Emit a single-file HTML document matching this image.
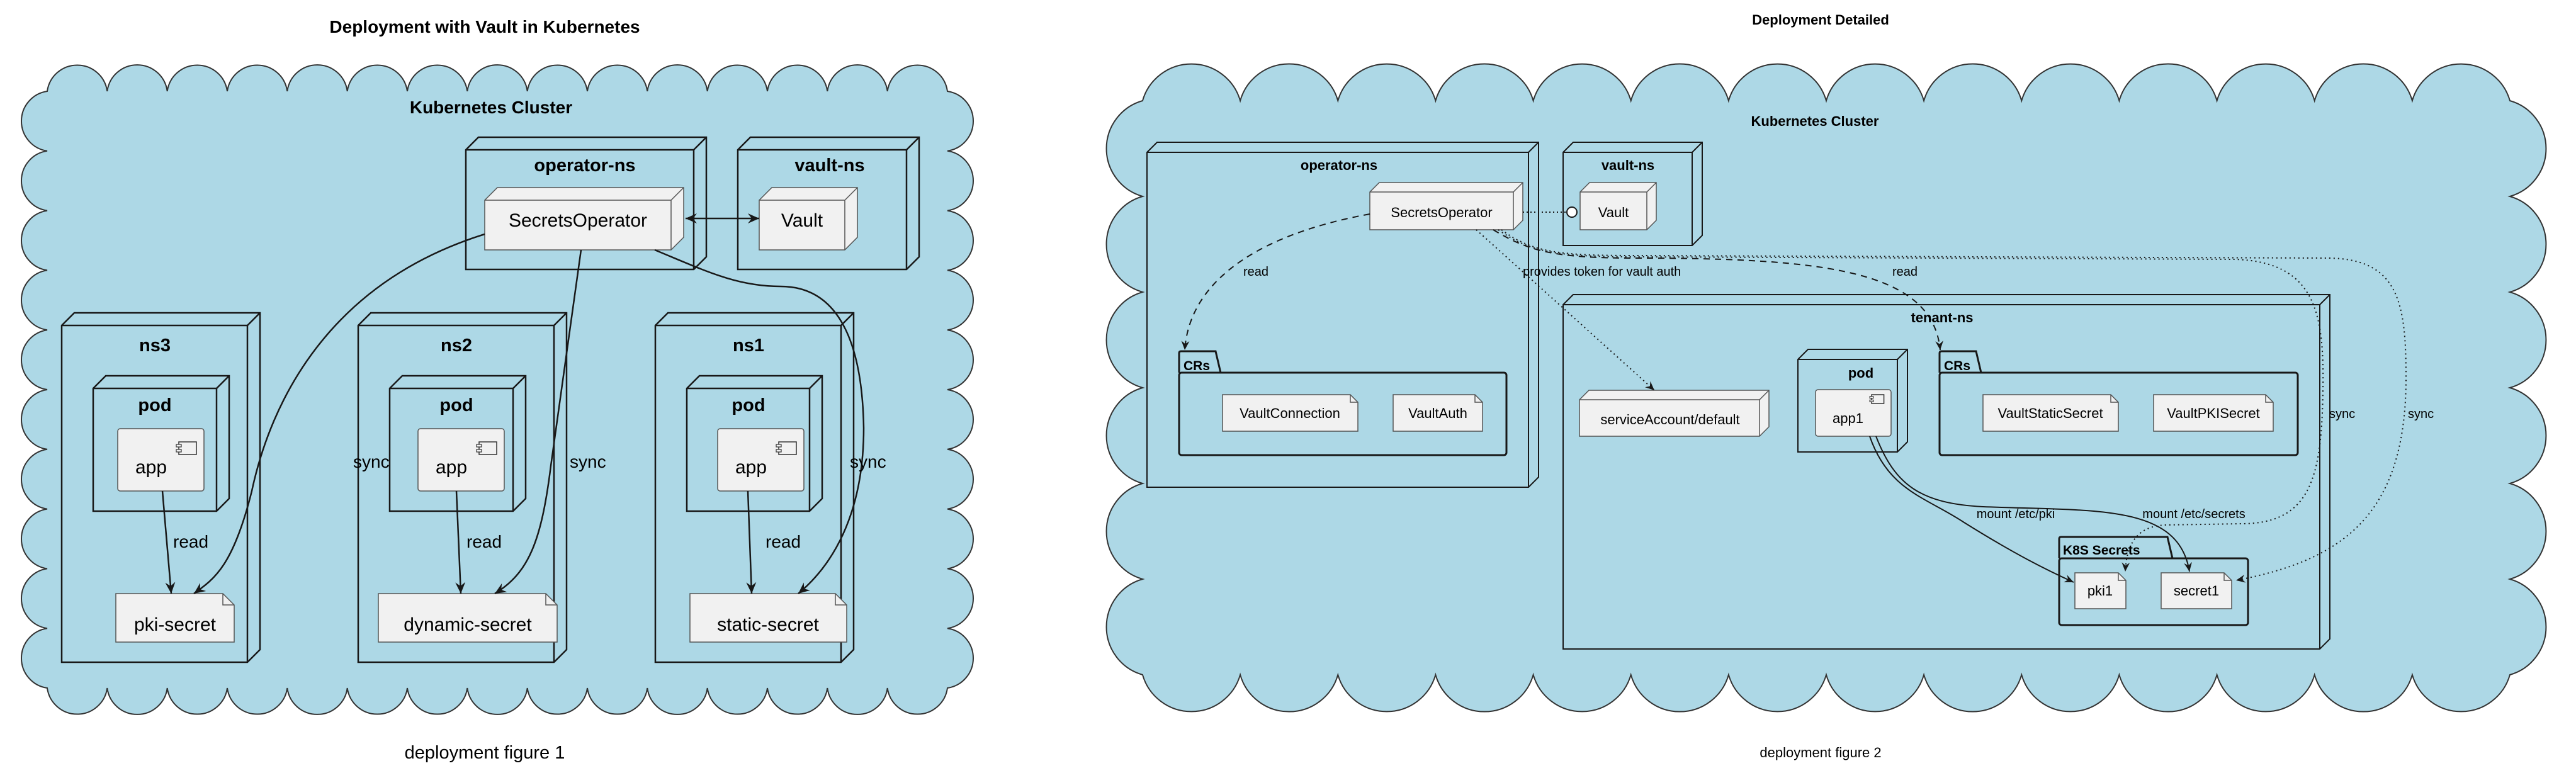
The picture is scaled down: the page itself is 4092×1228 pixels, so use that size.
<!DOCTYPE html>
<html><head><meta charset="utf-8">
<style>
html,body{margin:0;padding:0;background:#fff;}
svg{display:block;}
text{font-family:"Liberation Sans",sans-serif;fill:#000;}
.b{font-weight:bold;}
</style></head>
<body>
<svg id="s" width="4092" height="1228" viewBox="0 0 4092 1228" xmlns="http://www.w3.org/2000/svg">
<defs>
<marker id="ar" viewBox="0 0 20 20" refX="18" refY="10" markerWidth="20" markerHeight="20" markerUnits="userSpaceOnUse" orient="auto-start-reverse">
<path d="M0,2 L18,10 L0,18 L6,10 Z" fill="#181818"/>
</marker>
<marker id="ar2" viewBox="0 0 20 20" refX="18" refY="10" markerWidth="16" markerHeight="16" markerUnits="userSpaceOnUse" orient="auto-start-reverse">
<path d="M0,2 L18,10 L0,18 L6,10 Z" fill="#181818"/>
</marker>
</defs>
<g id="clouds"></g>
<g id="shapes"></g>
<g id="lines" fill="none" stroke="#181818">
<!-- left diagram -->
<line x1="1089" y1="347" x2="1206" y2="347" stroke-width="2.5" marker-start="url(#ar)" marker-end="url(#ar)"/>
<path d="M258,780 L272,943" stroke-width="2.5" marker-end="url(#ar)"/>
<path d="M725,780 L732,943" stroke-width="2.5" marker-end="url(#ar)"/>
<path d="M1188,780 L1194,943" stroke-width="2.5" marker-end="url(#ar)"/>
<path d="M770,372 C520,450 430,640 400,780 C370,900 340,920 308,943" stroke-width="2.5" marker-end="url(#ar)"/>
<path d="M923,397 C905,530 890,640 875,740 C860,860 840,910 786,943" stroke-width="2.5" marker-end="url(#ar)"/>
<path d="M1040,397 C1120,430 1170,455 1240,455 C1340,455 1370,560 1372,680 C1372,820 1320,900 1268,943" stroke-width="2.5" marker-end="url(#ar)"/>
<!-- right diagram -->
<line x1="2419" y1="337" x2="2489" y2="337" stroke-width="2" stroke-dasharray="2,4"/>
<circle cx="2497" cy="337" r="8" fill="#fff" stroke-width="2"/>
<path d="M2176,340 C2010,370 1890,440 1882,556" stroke-width="2" stroke-dasharray="10,8" marker-end="url(#ar2)"/>
<path d="M2372,365 C2430,400 2470,410 2600,410 C2900,410 3070,430 3082,556" stroke-width="2" stroke-dasharray="10,8" marker-end="url(#ar2)"/>
<path d="M2345,365 L2628,620" stroke-width="2" stroke-dasharray="2,5" marker-end="url(#ar2)"/>
<path d="M2380,365 C2430,400 2470,408 2600,408 L3550,412 C3680,416 3692,500 3690,620 C3688,760 3670,832 3560,832 L3440,834 C3390,836 3378,870 3376,908" stroke-width="2" stroke-dasharray="2,5" marker-end="url(#ar2)"/>
<path d="M2385,365 C2435,402 2480,406 2600,406 L3700,410 C3810,412 3822,480 3822,600 C3822,820 3720,890 3552,922" stroke-width="2" stroke-dasharray="2,5" marker-end="url(#ar2)"/>
<path d="M2970,693 C3000,780 3060,790 3120,830 C3200,880 3250,905 3294,925" stroke-width="2" marker-end="url(#ar2)"/>
<path d="M2980,693 C3010,770 3050,800 3150,805 C3330,812 3460,800 3478,908" stroke-width="2" marker-end="url(#ar2)"/>
</g>
<g id="txt">
<text x="770" y="52" class="b" font-size="28" text-anchor="middle">Deployment with Vault in Kubernetes</text>
<text x="780" y="180" class="b" font-size="28" text-anchor="middle">Kubernetes Cluster</text>
<text x="929" y="272" class="b" font-size="29" text-anchor="middle">operator-ns</text>
<text x="1318" y="272" class="b" font-size="29" text-anchor="middle">vault-ns</text>
<text x="918" y="360" font-size="30" text-anchor="middle">SecretsOperator</text>
<text x="1274" y="360" font-size="30" text-anchor="middle">Vault</text>
<text x="246" y="558" class="b" font-size="29" text-anchor="middle">ns3</text>
<text x="725" y="558" class="b" font-size="29" text-anchor="middle">ns2</text>
<text x="1189" y="558" class="b" font-size="29" text-anchor="middle">ns1</text>
<text x="246" y="653" class="b" font-size="29" text-anchor="middle">pod</text>
<text x="725" y="653" class="b" font-size="29" text-anchor="middle">pod</text>
<text x="1189" y="653" class="b" font-size="29" text-anchor="middle">pod</text>
<text x="240" y="752" font-size="30" text-anchor="middle">app</text>
<text x="717" y="752" font-size="30" text-anchor="middle">app</text>
<text x="1193" y="752" font-size="30" text-anchor="middle">app</text>
<text x="278" y="1002" font-size="30" text-anchor="middle">pki-secret</text>
<text x="743" y="1002" font-size="30" text-anchor="middle">dynamic-secret</text>
<text x="1220" y="1002" font-size="30" text-anchor="middle">static-secret</text>
<text x="275" y="870" font-size="28">read</text>
<text x="741" y="870" font-size="28">read</text>
<text x="1216" y="870" font-size="28">read</text>
<text x="561" y="743" font-size="28">sync</text>
<text x="905" y="743" font-size="28">sync</text>
<text x="1350" y="743" font-size="28">sync</text>
<text x="770" y="1205" font-size="29" text-anchor="middle">deployment figure 1</text>

<text x="2892" y="39" class="b" font-size="22" text-anchor="middle">Deployment Detailed</text>
<text x="2883" y="200" class="b" font-size="22" text-anchor="middle">Kubernetes Cluster</text>
<text x="2127" y="270" class="b" font-size="22" text-anchor="middle">operator-ns</text>
<text x="2586" y="270" class="b" font-size="22" text-anchor="middle">vault-ns</text>
<text x="2290" y="345" font-size="22" text-anchor="middle">SecretsOperator</text>
<text x="2563" y="345" font-size="22" text-anchor="middle">Vault</text>
<text x="1975" y="438" font-size="20">read</text>
<text x="2419" y="438" font-size="20">provides token for vault auth</text>
<text x="3006" y="438" font-size="20">read</text>
<text x="3085" y="512" class="b" font-size="22" text-anchor="middle">tenant-ns</text>
<text x="2956" y="600" class="b" font-size="22" text-anchor="middle">pod</text>
<text x="2911" y="672" font-size="22">app1</text>
<text x="1880" y="588" class="b" font-size="21">CRs</text>
<text x="3088" y="588" class="b" font-size="21">CRs</text>
<text x="2049" y="664" font-size="22" text-anchor="middle">VaultConnection</text>
<text x="2284" y="664" font-size="22" text-anchor="middle">VaultAuth</text>
<text x="3257" y="664" font-size="22" text-anchor="middle">VaultStaticSecret</text>
<text x="3516" y="664" font-size="22" text-anchor="middle">VaultPKISecret</text>
<text x="2653" y="674" font-size="22" text-anchor="middle">serviceAccount/default</text>
<text x="3277" y="881" class="b" font-size="21">K8S Secrets</text>
<text x="3336" y="946" font-size="22" text-anchor="middle">pki1</text>
<text x="3489" y="946" font-size="22" text-anchor="middle">secret1</text>
<text x="3202" y="823" font-size="20" text-anchor="middle">mount /etc/pki</text>
<text x="3485" y="823" font-size="20" text-anchor="middle">mount /etc/secrets</text>
<text x="3700" y="664" font-size="20">sync</text>
<text x="3825" y="664" font-size="20">sync</text>
<text x="2892" y="1203" font-size="22" text-anchor="middle">deployment figure 2</text>
</g>
</svg>
<script>
var NS="http://www.w3.org/2000/svg";
function el(p,t,a){var e=document.createElementNS(NS,t);for(var k in a)e.setAttribute(k,a[k]);p.appendChild(e);return e;}
function cloud(x1,y1,x2,y2,s,rf,large){
  var d="M"+x1+","+y1;
  function edge(ax,ay,bx,by){
    var L=Math.hypot(bx-ax,by-ay),n=Math.max(1,Math.round(L/s)),seg=L/n,r=seg*rf;
    for(var i=1;i<=n;i++){var px=ax+(bx-ax)*i/n,py=ay+(by-ay)*i/n;
      d+=" A"+r.toFixed(1)+","+r.toFixed(1)+" 0 "+large+" 1 "+px.toFixed(1)+","+py.toFixed(1);}
  }
  edge(x1,y1,x2,y1);edge(x2,y1,x2,y2);edge(x2,y2,x1,y2);edge(x1,y2,x1,y1);
  el(document.getElementById("clouds"),"path",{d:d+"Z",fill:"#ADD8E6",stroke:"#333","stroke-width":2});
}
cloud(75,145,1505,1093,95,0.505,0);
cloud(1815,160,3987,1072,150,0.52,0);
var G=document.getElementById("shapes");
function node(x,y,x2,y2,dd,fill,sw,st){
  var p=[[x,y+dd],[x+dd,y],[x2,y],[x2,y2-dd],[x2-dd,y2],[x,y2]];
  el(G,"polygon",{points:p.map(function(q){return q.join(",")}).join(" "),fill:fill,stroke:st,"stroke-width":sw});
  el(G,"polyline",{points:[x,y+dd,x2-dd,y+dd,x2,y].join(","),fill:"none",stroke:st,"stroke-width":sw});
  el(G,"line",{x1:x2-dd,y1:y+dd,x2:x2-dd,y2:y2,stroke:st,"stroke-width":sw});
}
function art(x,y,x2,y2,c){
  el(G,"path",{d:"M"+x+","+y+" L"+(x2-c)+","+y+" L"+x2+","+(y+c)+" L"+x2+","+y2+" L"+x+","+y2+"Z",fill:"#F1F1F1",stroke:"#555","stroke-width":1.5});
  el(G,"path",{d:"M"+(x2-c)+","+y+" L"+(x2-c)+","+(y+c)+" L"+x2+","+(y+c),fill:"none",stroke:"#555","stroke-width":1.5});
}
function comp(x,y,x2,y2,ix,iy,sz){
  el(G,"rect",{x:x,y:y,width:x2-x,height:y2-y,rx:4,fill:"#F1F1F1",stroke:"#555","stroke-width":1.5});
  el(G,"rect",{x:ix,y:iy,width:sz*1.4,height:sz,fill:"none",stroke:"#333","stroke-width":1.5});
  el(G,"rect",{x:ix-sz*0.2,y:iy+sz*0.2,width:sz*0.4,height:sz*0.2,fill:"#F1F1F1",stroke:"#333","stroke-width":1.2});
  el(G,"rect",{x:ix-sz*0.2,y:iy+sz*0.6,width:sz*0.4,height:sz*0.2,fill:"#F1F1F1",stroke:"#333","stroke-width":1.2});
}
function pkg(x,y,tabw,tabh,x2,y2){
  el(G,"path",{d:"M"+x+","+(y+tabh)+" L"+x+","+(y+3)+" Q"+x+","+y+" "+(x+3)+","+y+" L"+(x+tabw-8)+","+y+" L"+(x+tabw)+","+(y+tabh),fill:"none",stroke:"#181818","stroke-width":3});
  el(G,"rect",{x:x,y:y+tabh,width:x2-x,height:y2-y-tabh,rx:4,fill:"none",stroke:"#181818","stroke-width":3});
}
var B="#ADD8E6",F="#F1F1F1",K="#181818";
// left
node(740,218,1122,428,20,B,2.5,K);
node(1172,218,1460,428,20,B,2.5,K);
node(770,298,1086,397,20,F,1.5,"#555");
node(1206,298,1362,397,20,F,1.5,"#555");
node(98,497,413,1052,20,B,2.5,K);
node(569,497,900,1052,20,B,2.5,K);
node(1041,497,1356,1052,20,B,2.5,K);
node(148,597,364,812,20,B,2.5,K);
node(619,597,835,812,20,B,2.5,K);
node(1091,597,1306,812,20,B,2.5,K);
comp(187,681,324,780,284,702,20);
comp(664,681,801,780,761,702,20);
comp(1140,681,1277,780,1237,702,20);
art(184,943,372,1020,18);
art(601,943,885,1020,18);
art(1096,943,1345,1020,18);
// right
node(1822,226,2444,774,16,B,2,K);
node(2483,226,2704,390,16,B,2,K);
node(2176,290,2419,365,15,F,1.5,"#555");
node(2510,290,2631,365,15,F,1.5,"#555");
node(2483,468,3701,1031,16,B,2,K);
node(2856,555,3030,718,16,B,2,K);
node(2509,620,2810,693,15,F,1.5,"#555");
comp(2884,619,3004,693,2973,627,14);
pkg(1873,558,66,34,2393,723);
pkg(3081,558,66,34,3650,723);
pkg(3271,853,180,34,3571,993);
art(1942,627,2157,685,12);
art(2213,627,2355,685,12);
art(3150,627,3365,685,12);
art(3421,627,3611,685,12);
art(3296,910,3377,967,12);
art(3433,910,3545,967,12);
</script>
</body></html>
